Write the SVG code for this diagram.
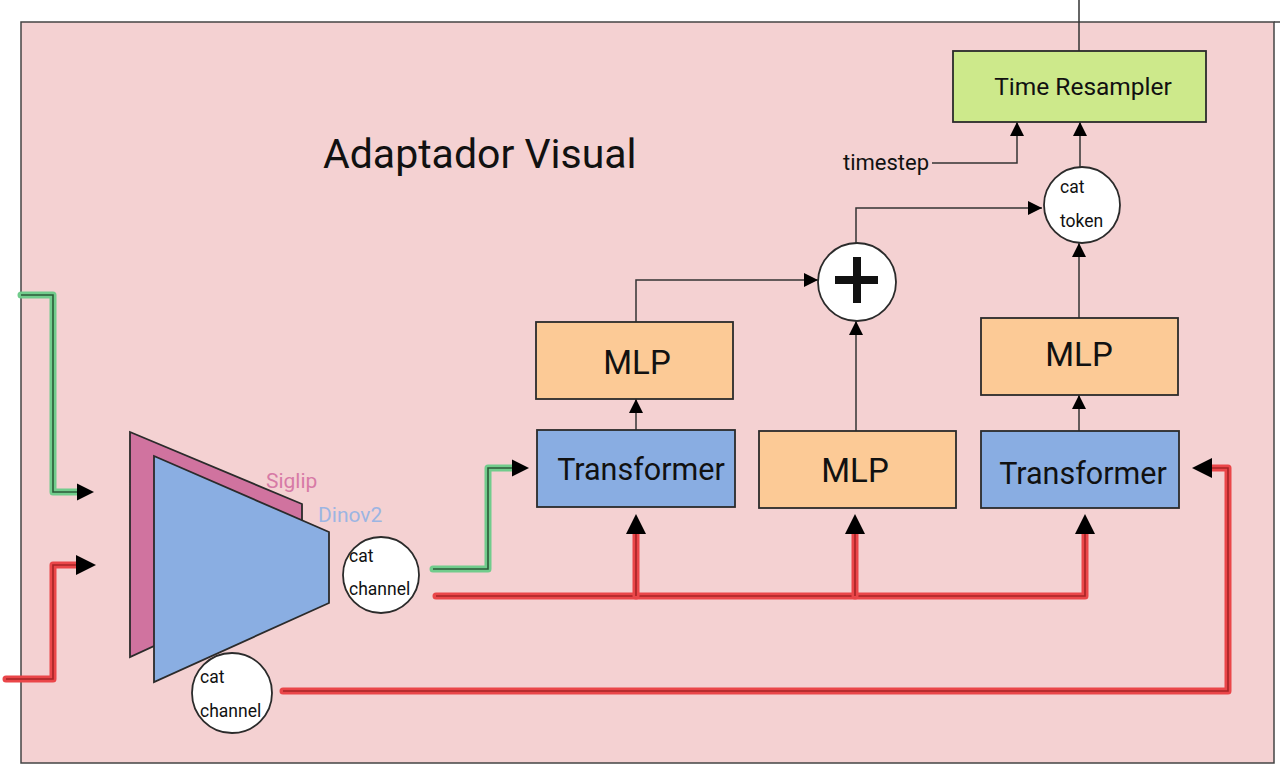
<svg xmlns="http://www.w3.org/2000/svg" width="1280" height="781" viewBox="0 0 1280 781">
<defs>
<style>
.box{stroke:#2b2b2b;stroke-width:1.8}
.mlp{fill:#fcca96}
.tr{fill:#89ade2}
.ts{fill:#cde98b}
.circ{fill:#ffffff;stroke:#2b2b2b;stroke-width:1.8}
.t{font-family:Roboto,"Liberation Sans",sans-serif;fill:#111}
.thin{fill:none;stroke:#333;stroke-width:1.5}
.rglow{fill:none;stroke:#ea4649;stroke-width:7;stroke-linecap:round;stroke-linejoin:round}
.rcore{fill:none;stroke:#a62426;stroke-width:1.6}
.gglow{fill:none;stroke:#71cc8c;stroke-width:7;stroke-linecap:round;stroke-linejoin:round}
.gcore{fill:none;stroke:#2c5a38;stroke-width:1.6}
</style>
<marker id="a" viewBox="0 0 10 10" refX="10" refY="5" markerUnits="userSpaceOnUse" markerWidth="15" markerHeight="14" orient="auto"><path d="M0,0 L10,5 L0,10 z" fill="#000"/></marker>
<marker id="b" viewBox="0 0 10 10" refX="0" refY="5" markerUnits="userSpaceOnUse" markerWidth="21" markerHeight="20" orient="auto"><path d="M0,0 L10,5 L0,10 z" fill="#000"/></marker>
<marker id="g" viewBox="0 0 10 10" refX="0" refY="5" markerUnits="userSpaceOnUse" markerWidth="17" markerHeight="18" orient="auto"><path d="M0,0 L10,5 L0,10 z" fill="#000"/></marker>
</defs>
<rect x="0" y="0" width="1280" height="781" fill="#ffffff"/>
<g id="frame">
<rect x="21" y="22" width="1253" height="741" fill="#f4d1d2" stroke="#444" stroke-width="1.5"/>
<line x1="1274" y1="22" x2="1280" y2="22" stroke="#444" stroke-width="1.5"/>
</g>
<text class="t" x="323" y="168" font-size="41">Adaptador Visual</text>

<g id="connectors">
<path class="thin" d="M1079,51 V0"/>
<path class="thin" d="M932,163 H1017 V122" marker-end="url(#a)"/>
<path class="thin" d="M1080,167 V122" marker-end="url(#a)"/>
<path class="thin" d="M856,244 V208 H1042" marker-end="url(#a)"/>
<path class="thin" d="M636,322 V280 H818" marker-end="url(#a)"/>
<path class="thin" d="M636,430 V399" marker-end="url(#a)"/>
<path class="thin" d="M856,431 V321" marker-end="url(#a)"/>
<path class="thin" d="M1079,431 V395" marker-end="url(#a)"/>
<path class="thin" d="M1079,318 V243" marker-end="url(#a)"/>

<path class="rglow" d="M436,596 H1085 V534"/>
<path class="rcore" d="M436,596 H1085 V534" marker-end="url(#b)"/>
<path class="rglow" d="M636,596 V534"/>
<path class="rcore" d="M636,596 V534" marker-end="url(#b)"/>
<path class="rglow" d="M855,596 V534"/>
<path class="rcore" d="M855,596 V534" marker-end="url(#b)"/>
<path class="rglow" d="M283,691 H1228 V468 H1212"/>
<path class="rcore" d="M283,691 H1228 V468 H1212" marker-end="url(#b)"/>
<path class="rglow" d="M6,679 H53 V565 H76"/>
<path class="rcore" d="M6,679 H53 V565 H76" marker-end="url(#b)"/>

<path class="gglow" d="M21,295 H53 V492 H77"/>
<path class="gcore" d="M21,295 H53 V492 H77" marker-end="url(#g)"/>
<path class="gglow" d="M433,569 H488 V468 H512"/>
<path class="gcore" d="M433,569 H488 V468 H512" marker-end="url(#g)"/>
</g>

<g id="encoder">
<polygon points="130,432 302,504 302,578 130,657" fill="#d0739f" stroke="#2b2b2b" stroke-width="1.8"/>
<polygon points="154,456 329,532 329,603 154,682" fill="#8aaee2" stroke="#2b2b2b" stroke-width="1.8"/>
<text class="t" x="266" y="488" font-size="21" style="fill:#d77aa6">Siglip</text>
<text class="t" x="318" y="522" font-size="21" style="fill:#9cb5e2">Dinov2</text>
</g>

<g id="cat-channel-1">
<circle class="circ" cx="381" cy="575" r="38"/>
<text class="t" x="349" y="562" font-size="17.5">cat</text>
<text class="t" x="349" y="595" font-size="17.5">channel</text>
</g>
<g id="cat-channel-2">
<circle class="circ" cx="232" cy="693" r="40"/>
<text class="t" x="200" y="683" font-size="17.5">cat</text>
<text class="t" x="200" y="717" font-size="17.5">channel</text>
</g>

<g id="transformer-1">
<rect class="box tr" x="537" y="430" width="198" height="77"/>
<text class="t" x="641" y="480" font-size="30.5" text-anchor="middle">Transformer</text>
</g>
<g id="mlp-1">
<rect class="box mlp" x="536" y="322" width="197" height="77"/>
<text class="t" x="637" y="374" font-size="33" text-anchor="middle">MLP</text>
</g>
<g id="mlp-2">
<rect class="box mlp" x="759" y="431" width="197" height="77"/>
<text class="t" x="855" y="482" font-size="33" text-anchor="middle">MLP</text>
</g>
<g id="transformer-2">
<rect class="box tr" x="981" y="431" width="198" height="77"/>
<text class="t" x="1083" y="484" font-size="30.5" text-anchor="middle">Transformer</text>
</g>
<g id="mlp-3">
<rect class="box mlp" x="981" y="318" width="197" height="77"/>
<text class="t" x="1079" y="366" font-size="33" text-anchor="middle">MLP</text>
</g>

<g id="plus">
<circle class="circ" cx="857" cy="282" r="39"/>
<rect x="835" y="276" width="43" height="8" fill="#111"/>
<rect x="853" y="257" width="8" height="46" fill="#111"/>
</g>

<g id="cat-token">
<circle class="circ" cx="1082" cy="205" r="38"/>
<text class="t" x="1060" y="193" font-size="17.5">cat</text>
<text class="t" x="1060" y="227" font-size="17.5">token</text>
</g>

<g id="time-resampler">
<rect class="box ts" x="953" y="51" width="253" height="71"/>
<text class="t" x="1083" y="95" font-size="24.5" text-anchor="middle">Time Resampler</text>
</g>

<g id="timestep-label">
<text class="t" x="843" y="170" font-size="22">timestep</text>
</g>
</svg>
